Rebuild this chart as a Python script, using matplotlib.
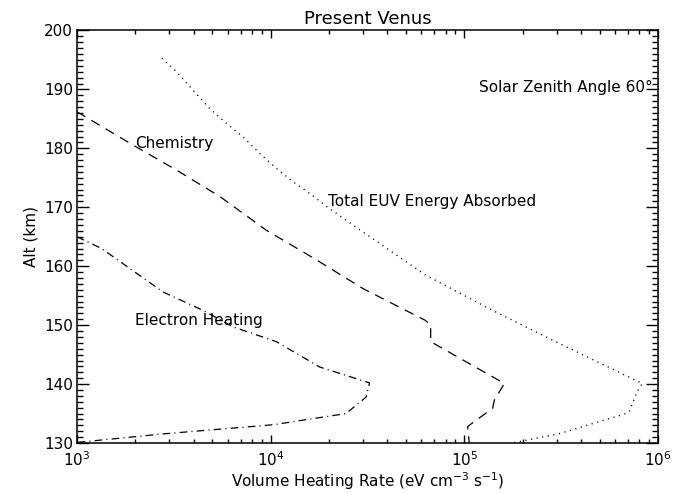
import matplotlib
matplotlib.use("Agg")
import matplotlib.pyplot as plt
from matplotlib.ticker import LogLocator, MultipleLocator
import numpy as np

plt.rcParams['font.family'] = ['DejaVu Sans']
plt.rcParams['lines.scale_dashes'] = False

# Total EUV energy absorbed (dotted)
euv_rate = [2.74e3, 3.27e3, 3.99e3, 4.86e3, 5.93e3, 7.23e3, 8.81e3, 1.07e4, 1.31e4,
            1.60e4, 1.95e4, 2.88e4, 6.3e4, 1.40e5, 3.09e5, 8.3e5, 7.8e5, 7.1e5,
            6.7e5, 4.6e5, 3.1e5, 1.77e5]
euv_alt = [195.3, 193.0, 189.8, 186.7, 184.2, 181.9, 179.1, 176.6, 174.3,
           172.3, 170.1, 166.2, 158.5, 152.5, 146.9, 140.1, 138.7, 135.3,
           134.9, 133.3, 131.6, 130.0]

# Chemistry (dashed)
chem_rate = [1.0e3, 1.96e3, 3.27e3, 5.48e3, 9.5e3, 1.68e4, 3.0e4, 6.3e4, 6.7e4, 6.7e4,
             1.61e5, 1.43e5, 1.40e5, 1.04e5, 1.06e5]
chem_alt = [186.2, 180.5, 176.3, 171.8, 166.1, 161.3, 156.2, 150.8, 150.0, 147.2,
            140.1, 137.3, 135.9, 132.8, 130.0]

# Electron heating (dash-dot)
elec_rate = [1.0e3, 1.34e3, 2.79e3, 4.48e3, 6.4e3, 1.07e4, 1.79e4, 3.24e4, 3.11e4,
             2.45e4, 1.03e4, 2.9e3, 1.0e3]
elec_alt = [165.0, 163.0, 155.6, 152.5, 149.7, 147.2, 142.9, 140.2, 137.8,
            135.0, 133.1, 131.6, 130.1]

fig = plt.figure(figsize=(6.88, 4.94), dpi=100)
ax = fig.add_axes([0.1119, 0.1032, 0.9564 - 0.1119, 0.9383 - 0.1032])

lw = 0.9
ax.plot(euv_rate, euv_alt, color='black', lw=1.0, dashes=(0.8, 3.3))
ax.plot(chem_rate, chem_alt, color='black', lw=lw, dashes=(7, 5))
ax.plot(elec_rate, elec_alt, color='black', lw=lw, dashes=(5.5, 3, 0.8, 3))

ax.set_xscale('log')
ax.set_xlim(1e3, 1e6)
ax.set_ylim(130, 200)
ax.xaxis.set_major_locator(LogLocator(base=10, numticks=10))
ax.xaxis.set_minor_locator(LogLocator(base=10, subs=np.arange(2, 10), numticks=20))
ax.yaxis.set_major_locator(MultipleLocator(10))
ax.yaxis.set_minor_locator(MultipleLocator(1))

ax.tick_params(which='both', direction='in', top=True, right=True, width=1.0, labelsize=11)
ax.tick_params(axis='y', which='major', length=8.5, pad=3)
ax.tick_params(axis='y', which='minor', length=4.3)
ax.tick_params(axis='x', which='major', length=6, pad=5)
ax.tick_params(axis='x', which='minor', length=3)
for s in ax.spines.values():
    s.set_linewidth(1.1)

ax.set_title('Present Venus', fontsize=13, pad=5)
ax.set_xlabel('Volume Heating Rate (eV cm$^{-3}$ s$^{-1}$)', fontsize=11, labelpad=1)
ax.set_ylabel('Alt (km)', fontsize=11, labelpad=4)

ax.text(0.991, 190.3, 'Solar Zenith Angle 60°', transform=ax.get_yaxis_transform(),
        ha='right', va='center', fontsize=11)
ax.text(2.0e3, 180.8, 'Chemistry', ha='left', va='center', fontsize=11)
ax.text(1.97e4, 170.9, 'Total EUV Energy Absorbed', ha='left', va='center', fontsize=11)
ax.text(2.0e3, 150.8, 'Electron Heating', ha='left', va='center', fontsize=11)

fig.savefig('out.png', dpi=100)
